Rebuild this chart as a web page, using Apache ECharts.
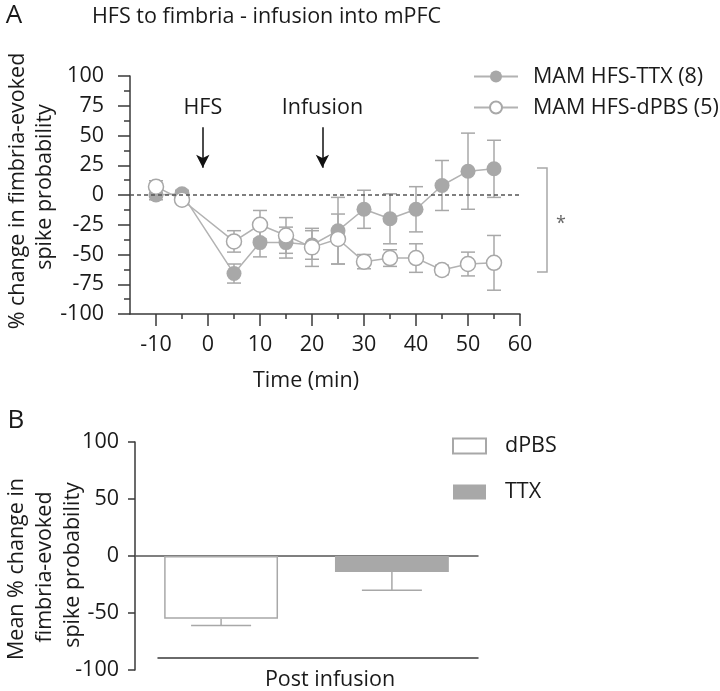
<!DOCTYPE html>
<html><head><meta charset="utf-8">
<script src="https://cdn.jsdelivr.net/npm/echarts@6/dist/echarts.min.js"></script>
<style>html,body{margin:0;padding:0;background:#fff}#c{width:720px;height:691px}</style>
</head><body><div id="c"></div>
<script>
// ---- data ----
const times = [-10, -5, 5, 10, 15, 20, 25, 30, 35, 40, 45, 50, 55];
const ttxMean = [0, 1, -66, -40, -40, -42, -30, -12, -20, -12, 8, 20, 22];
const ttxSem  = [4, 3, 8, 12, 13, 12, 28, 16, 21, 19, 21, 32, 24];
const pbsMean = [7, -4, -39, -25, -34, -44, -37, -56, -53, -53, -63, -58, -57];
const pbsSem  = [5, 3, 9, 12, 15, 16, 21, 6, 7, 12, 4, 10, 23];
const xTickLabels = [-10, 0, 10, 20, 30, 40, 50, 60];
const xMinorTicks = [-5, 5, 15, 25, 35, 45, 55];
const barCategories = ['Post infusion'];
const barPbs = [-55];
const barPbsErr = [6];
const barTtx = [-14];
const barTtxErr = [16];
const hfsTime = -1, infusionTime = 22;

const FONT = '"Open Sans", "Noto Sans", sans-serif';
const FS = 21.5;
const GRAY = '#a8a8a8';
const LINEGRAY = '#b2b2b2';
const AX = '#3a3a3a';
const BAR_W_FRAC = 0.332;

function errSeries(name, means, sems, z) {
  return {
    type: 'custom', name: name + '_err', xAxisIndex: 0, yAxisIndex: 0, z: z, silent: true,
    data: times.map((t, i) => [t, means[i] - sems[i], means[i] + sems[i]]),
    renderItem: function (params, api) {
      const x = api.value(0), lo = api.value(1), hi = api.value(2);
      const p1 = api.coord([x, hi]), p2 = api.coord([x, lo]);
      const w = 7;
      const st = { stroke: GRAY, lineWidth: 1.5 };
      return { type: 'group', children: [
        { type: 'line', shape: { x1: p1[0], y1: p1[1], x2: p2[0], y2: p2[1] }, style: st },
        { type: 'line', shape: { x1: p1[0] - w, y1: p1[1], x2: p1[0] + w, y2: p1[1] }, style: st },
        { type: 'line', shape: { x1: p2[0] - w, y1: p2[1], x2: p2[0] + w, y2: p2[1] }, style: st }
      ]};
    }
  };
}

function barErrSeries(vals, errs, sign) {
  return {
    type: 'custom', xAxisIndex: 2, yAxisIndex: 1, z: 1, silent: true,
    data: vals.map((v, i) => [i, v, v - errs[i]]),
    renderItem: function (params, api) {
      const c = api.value(0);
      const p1 = api.coord([c, api.value(1)]), p2 = api.coord([c, api.value(2)]);
      const band = api.size([1, 0])[0];
      const off = sign * 0.75 * band * BAR_W_FRAC;
      const x = p1[0] + off, w = 30;
      const st = { stroke: GRAY, lineWidth: 1.5 };
      return { type: 'group', children: [
        { type: 'line', shape: { x1: x, y1: p1[1], x2: x, y2: p2[1] }, style: st },
        { type: 'line', shape: { x1: x - w, y1: p2[1], x2: x + w, y2: p2[1] }, style: st }
      ]};
    }
  };
}

const chart = echarts.init(document.getElementById('c'), null, { renderer: 'canvas' });
const txt = { fontFamily: FONT, fill: '#1a1a1a' };
function T(o) { return Object.assign({}, txt, o); }

chart.setOption({
  backgroundColor: '#fff',
  animation: false,
  textStyle: { fontFamily: FONT },
  grid: [
    { left: 130, top: 76, width: 390, height: 238 },
    { left: 135, top: 442, width: 343, height: 228 },
    { left: 158, top: 442, width: 320, height: 216 }
  ],
  xAxis: [
    { type: 'value', gridIndex: 0, min: -15, max: 60, position: 'bottom',
      axisLine: { show: true, onZero: false, lineStyle: { color: AX, width: 1.5 } },
      axisTick: { show: true, customValues: xTickLabels, length: 12, lineStyle: { color: AX, width: 1.5 } },
      axisLabel: { customValues: xTickLabels, fontSize: FS, color: '#1a1a1a', margin: 20, fontFamily: FONT },
      splitLine: { show: false } },
    { type: 'value', gridIndex: 0, min: -15, max: 60, position: 'bottom',
      axisLine: { show: false, onZero: false },
      axisTick: { show: true, customValues: xMinorTicks, length: 5, lineStyle: { color: AX, width: 1.5 } },
      axisLabel: { show: false }, splitLine: { show: false } },
    { type: 'category', gridIndex: 1, data: barCategories,
      axisLine: { show: true, onZero: true, lineStyle: { color: '#555', width: 1.5 } },
      axisTick: { show: false }, axisLabel: { show: false } },
    { type: 'category', gridIndex: 2, data: barCategories, position: 'bottom',
      axisLine: { show: true, onZero: false, lineStyle: { color: AX, width: 1.5 } },
      axisTick: { show: false }, axisLabel: { show: false } }
  ],
  yAxis: [
    { type: 'value', gridIndex: 0, min: -100, max: 100, interval: 25,
      axisLine: { show: true, onZero: false, lineStyle: { color: AX, width: 1.5 } },
      axisTick: { show: true, length: 12, lineStyle: { color: AX, width: 1.5 } },
      minorTick: { show: true, splitNumber: 2, length: 6, lineStyle: { color: AX, width: 1.5 } },
      axisLabel: { fontSize: FS, color: '#1a1a1a', margin: 26, fontFamily: FONT },
      splitLine: { show: false }, minorSplitLine: { show: false } },
    { type: 'value', gridIndex: 1, min: -100, max: 100, interval: 50,
      axisLine: { show: true, onZero: false, lineStyle: { color: AX, width: 1.5 } },
      axisTick: { show: true, length: 7, lineStyle: { color: AX, width: 1.5 } },
      axisLabel: { fontSize: FS, color: '#1a1a1a', margin: 16, fontFamily: FONT },
      splitLine: { show: false } },
    { type: 'value', gridIndex: 2, min: -100, max: 100, show: false }
  ],
  legend: [
    { data: ['MAM HFS-TTX (8)', 'MAM HFS-dPBS (5)'], orient: 'vertical', left: 473, top: 64, padding: 0,
      itemWidth: 44, itemHeight: 15, itemGap: 6,
      textStyle: { fontSize: FS, fontFamily: FONT, color: '#1a1a1a', padding: [0, 0, 0, 10], lineHeight: 25 } },
    { data: ['dPBS', 'TTX'], orient: 'vertical', left: 452, top: 434, padding: 0,
      itemWidth: 33, itemHeight: 15, itemGap: 22, icon: 'rect',
      textStyle: { fontSize: FS, fontFamily: FONT, color: '#1a1a1a', padding: [0, 0, 0, 14], lineHeight: 24 } }
  ],
  series: [
    errSeries('ttx', ttxMean, ttxSem, 1),
    errSeries('pbs', pbsMean, pbsSem, 1),
    { type: 'line', name: 'MAM HFS-TTX (8)', xAxisIndex: 0, yAxisIndex: 0, z: 3,
      data: times.map((t, i) => [t, ttxMean[i]]),
      symbol: 'circle', symbolSize: 15,
      itemStyle: { color: GRAY },
      lineStyle: { color: LINEGRAY, width: 1.5 },
      markLine: { silent: true, symbol: ['none', 'arrow'], symbolSize: [10, 13],
        lineStyle: { color: '#111', width: 1.5, type: 'solid' },
        label: { show: true, position: 'start', distance: 8, fontSize: FS, fontFamily: FONT, color: '#1a1a1a', formatter: p => p.name },
        data: [
          [{ name: 'HFS', coord: [hfsTime, 57] }, { coord: [hfsTime, 23] }],
          [{ name: 'Infusion', coord: [infusionTime, 57] }, { coord: [infusionTime, 23] }]
        ] } },
    { type: 'line', name: 'MAM HFS-dPBS (5)', xAxisIndex: 0, yAxisIndex: 0, z: 4,
      data: times.map((t, i) => [t, pbsMean[i]]),
      symbol: 'circle', symbolSize: 15,
      itemStyle: { color: '#fff', borderColor: GRAY, borderWidth: 1.5 },
      lineStyle: { color: LINEGRAY, width: 1.5 },
      markLine: { silent: true, symbol: 'none', label: { show: false },
        lineStyle: { color: '#555', width: 1.5, type: [4, 3] },
        data: [{ yAxis: 0 }] } },
    { type: 'bar', name: 'dPBS', xAxisIndex: 2, yAxisIndex: 1, data: barPbs, z: 2,
      barWidth: (BAR_W_FRAC * 100) + '%', barGap: '50%',
      itemStyle: { color: '#fff', borderColor: GRAY, borderWidth: 1.5 } },
    { type: 'bar', name: 'TTX', xAxisIndex: 2, yAxisIndex: 1, data: barTtx, z: 2,
      barWidth: (BAR_W_FRAC * 100) + '%', barGap: '50%',
      itemStyle: { color: GRAY } },
    barErrSeries(barPbs, barPbsErr, -1),
    barErrSeries(barTtx, barTtxErr, 1)
  ],
  graphic: [
    { type: 'text', x: 14, y: 16, style: T({ text: 'A', fontSize: 26, textAlign: 'center', textVerticalAlign: 'middle' }) },
    { type: 'text', x: 92, y: 17, style: T({ text: 'HFS to fimbria - infusion into mPFC', fontSize: FS, textVerticalAlign: 'middle' }) },
    { type: 'text', x: 18, y: 191, rotation: Math.PI / 2, style: T({ text: '% change in fimbria-evoked', fontSize: FS, textAlign: 'center', textVerticalAlign: 'middle' }) },
    { type: 'text', x: 45, y: 187, rotation: Math.PI / 2, style: T({ text: 'spike probability', fontSize: FS, textAlign: 'center', textVerticalAlign: 'middle' }) },
    { type: 'text', x: 306, y: 381, style: T({ text: 'Time (min)', fontSize: FS, textAlign: 'center', textVerticalAlign: 'middle' }) },
    { type: 'polyline', shape: { points: [[537, 168], [547, 168], [547, 272], [537, 272]] }, style: { stroke: GRAY, lineWidth: 1.5, fill: null } },
    { type: 'text', x: 561, y: 224, style: T({ text: '*', fontSize: 18, textAlign: 'center', textVerticalAlign: 'middle', fill: '#666' }) },
    { type: 'text', x: 16, y: 421, style: T({ text: 'B', fontSize: 26, textAlign: 'center', textVerticalAlign: 'middle' }) },
    { type: 'text', x: 17, y: 569, rotation: Math.PI / 2, style: T({ text: 'Mean % change in', fontSize: FS, textAlign: 'center', textVerticalAlign: 'middle' }) },
    { type: 'text', x: 45, y: 567, rotation: Math.PI / 2, style: T({ text: 'fimbria-evoked', fontSize: FS, textAlign: 'center', textVerticalAlign: 'middle' }) },
    { type: 'text', x: 73, y: 565, rotation: Math.PI / 2, style: T({ text: 'spike probability', fontSize: FS, textAlign: 'center', textVerticalAlign: 'middle' }) },
    { type: 'text', x: 330, y: 680, style: T({ text: 'Post infusion', fontSize: FS, textAlign: 'center', textVerticalAlign: 'middle' }) }
  ]
});
</script>
</body></html>
